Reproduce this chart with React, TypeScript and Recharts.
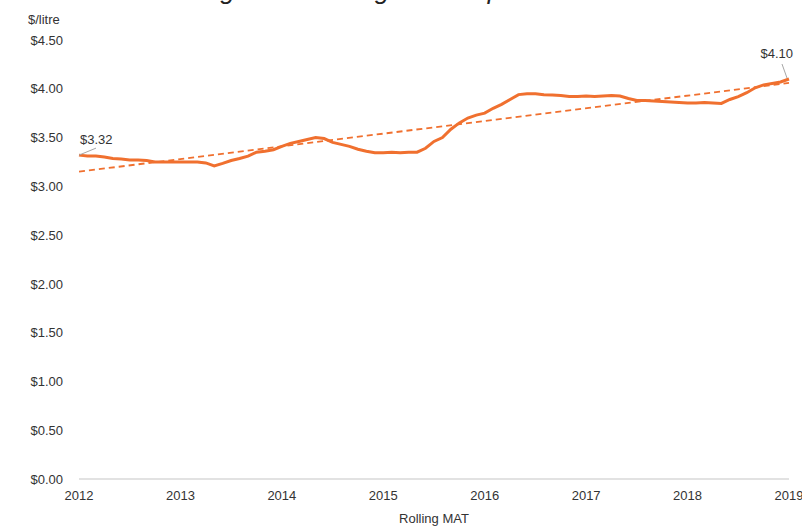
import React from "react";
import { LineChart, Line, XAxis, YAxis } from "recharts";

const yearLabels = ["2012", "2013", "2014", "2015", "2016", "2017", "2018", "2019"];
const yTicks = [0, 0.5, 1, 1.5, 2, 2.5, 3, 3.5, 4, 4.5];

// Rolling MAT $/litre, monthly from start of 2012 to start of 2019
const priceValues = [
  3.32, 3.31, 3.31, 3.3, 3.285, 3.28, 3.27, 3.27, 3.265, 3.25, 3.25, 3.25,
  3.25, 3.25, 3.25, 3.24, 3.21, 3.235, 3.265, 3.285, 3.31, 3.35, 3.36, 3.375,
  3.41, 3.44, 3.46, 3.48, 3.5, 3.49, 3.45, 3.43, 3.41, 3.38, 3.36, 3.345,
  3.345, 3.35, 3.345, 3.35, 3.35, 3.39, 3.46, 3.5, 3.585, 3.65, 3.7, 3.73,
  3.75, 3.8, 3.84, 3.89, 3.94, 3.95, 3.95, 3.94, 3.935, 3.93, 3.92, 3.92,
  3.925, 3.92, 3.925, 3.93, 3.925, 3.9, 3.88, 3.88, 3.875, 3.87, 3.865, 3.86,
  3.855, 3.855, 3.86, 3.855, 3.85, 3.89, 3.92, 3.96, 4.01, 4.04, 4.055, 4.07,
  4.1,
];
// Linear trend endpoints
const trendStart = 3.15;
const trendEnd = 4.06;

const data = priceValues.map((v, i) => ({
  m: i,
  price: v,
  trend: i === 0 ? trendStart : i === priceValues.length - 1 ? trendEnd : null,
}));

const ORANGE = "#F0702F";
const FONT = "'Liberation Sans', Arial, sans-serif";

const EndLabel = (props: any) => {
  const { x, y, index, value } = props;
  if (index === 0) {
    return (
      <g>
        <line x1={x} y1={y} x2={x + 17} y2={y - 7} stroke="#a6a6a6" strokeWidth={1} />
        <text x={x + 1} y={y - 16} dy="0.35em" fontSize={13} fill="#333" fontFamily={FONT}>
          ${Number(value).toFixed(2)}
        </text>
      </g>
    );
  }
  if (index === priceValues.length - 1) {
    return (
      <g>
        <line x1={x - 2} y1={y - 1} x2={x - 7} y2={y - 15} stroke="#a6a6a6" strokeWidth={1} />
        <text x={x + 4} y={y - 26} dy="0.35em" fontSize={13} fill="#333" textAnchor="end" fontFamily={FONT}>
          ${Number(value).toFixed(2)}
        </text>
      </g>
    );
  }
  return null;
};

export default function App() {
  return (
    <div style={{ position: "absolute", left: 0, top: 0, width: 802, height: 526, background: "#fff", overflow: "hidden", fontFamily: FONT }}>
      <div
        style={{
          position: "absolute",
          left: 0,
          width: 860,
          top: -25,
          textAlign: "center",
          fontSize: 26,
          fontStyle: "italic",
          color: "#222",
          whiteSpace: "nowrap",
          lineHeight: "30px",
        }}
      >
        Figure 3: Average unit imports to the US
      </div>
      <div style={{ position: "absolute", left: 28, top: 12, fontSize: 13, color: "#333" }}>$/litre</div>
      <div style={{ position: "absolute", left: 334, width: 200, top: 511, textAlign: "center", fontSize: 13, color: "#333" }}>
        Rolling MAT
      </div>
      <LineChart width={802} height={526} data={data} margin={{ top: 40, right: 13, bottom: 17, left: 0 }}>
        <XAxis
          dataKey="m"
          type="number"
          domain={[0, 84]}
          ticks={[0, 12, 24, 36, 48, 60, 72, 84]}
          tickFormatter={(v: number) => yearLabels[v / 12]}
          axisLine={{ stroke: "#d9d9d9", strokeWidth: 1.5 }}
          tickLine={false}
          tickMargin={6}
          tick={{ fontSize: 13, fill: "#333", fontFamily: FONT }}
          interval={0}
          height={30}
        />
        <YAxis
          width={79}
          domain={[0, 4.5]}
          ticks={yTicks}
          tickFormatter={(v: number) => "$" + v.toFixed(2)}
          axisLine={false}
          tickLine={false}
          tickMargin={10}
          tick={{ fontSize: 13, fill: "#333", fontFamily: FONT }}
          interval={0}
        />
        <Line
          dataKey="trend"
          stroke={ORANGE}
          strokeWidth={1.8}
          strokeDasharray="6 4"
          dot={false}
          connectNulls
          isAnimationActive={false}
        />
        <Line
          dataKey="price"
          stroke={ORANGE}
          strokeWidth={3}
          dot={false}
          isAnimationActive={false}
          label={EndLabel}
        />
      </LineChart>
    </div>
  );
}
